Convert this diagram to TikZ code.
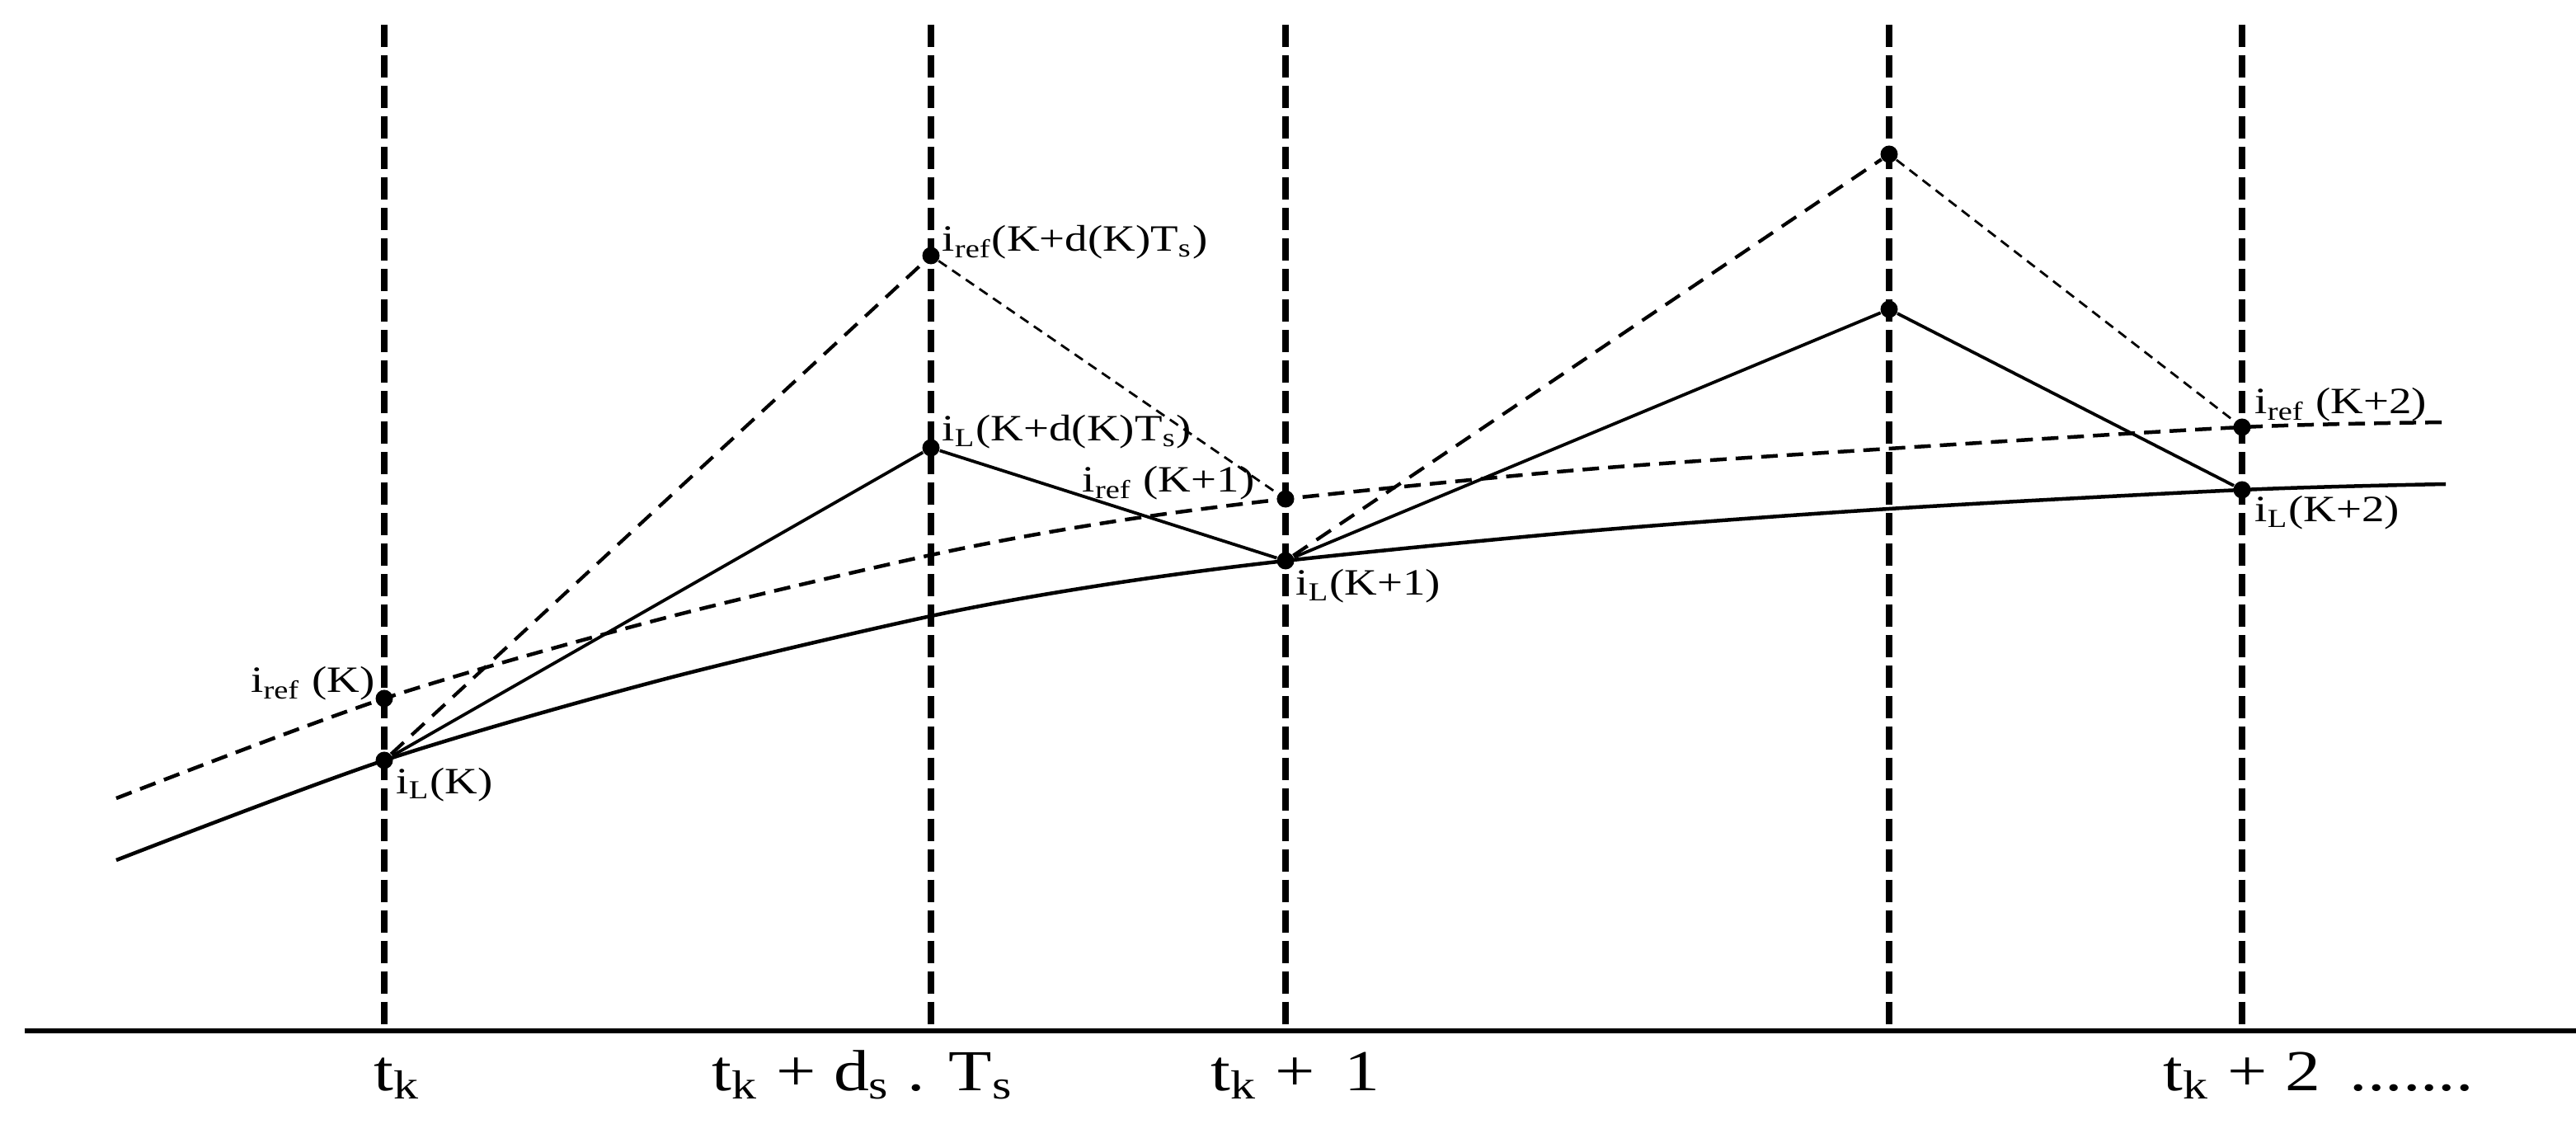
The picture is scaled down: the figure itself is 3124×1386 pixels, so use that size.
\documentclass[tikz,border=0pt]{standalone}
\usepackage{fontspec}
\setmainfont{Liberation Serif}
\usepackage{graphicx}
\newcommand{\stretchlbl}[1]{\scalebox{1.22}[1]{#1}}
\begin{document}
\begin{tikzpicture}[x=0.01cm,y=-0.01cm,
  vline/.style={line width=0.75mm, dash pattern=on 2.7mm off 1.0mm},
  axisline/.style={line width=0.6mm},
  refcurve/.style={line width=0.45mm, dash pattern=on 2.0mm off 1.1mm},
  lcurve/.style={line width=0.45mm},
  seg/.style={line width=0.38mm},
  dseg/.style={line width=0.42mm, dash pattern=on 2.1mm off 1.3mm},
  thinseg/.style={line width=0.28mm, dash pattern=on 1.2mm off 0.8mm},
  dot/.style={circle, fill=black, inner sep=0pt, minimum size=2.1mm},
  lab/.style={inner sep=0pt, font=\fontsize{12.8}{15}\selectfont},
  axlab/.style={inner sep=0pt, font=\fontsize{20}{24}\selectfont},
]
\fill[white] (0,0) rectangle (3124,1386);
\useasboundingbox (0,0) rectangle (3124,1386);

% vertical dashed lines
\foreach \n/\xx in {1/466,2/1129,3/1559,4/2291,5/2719}{
  \coordinate (v\n t) at (\xx,30);
  \coordinate (v\n b) at (\xx,1250);
}
\foreach \n in {1,...,5}{\draw[vline] (v\n t) -- (v\n b);}

% axis
\coordinate (ax0) at (30,1250);
\coordinate (ax1) at (3124,1250);
\draw[axisline] (ax0) -- (ax1);

% sample points
\coordinate (pA) at (466,922);   % iL(K)
\coordinate (pB) at (466,847);   % iref(K)
\coordinate (pC) at (1129,310);  % iref(K+d)
\coordinate (pD) at (1129,543);  % iL(K+d)
\coordinate (pE) at (1559,605);  % iref(K+1)
\coordinate (pF) at (1559,680);  % iL(K+1)
\coordinate (pG) at (2291,187);  % peak ref
\coordinate (pH) at (2291,375);  % peak iL
\coordinate (pI) at (2719,518);  % iref(K+2)
\coordinate (pJ) at (2719,594);  % iL(K+2)

% curve support points
\coordinate (r0) at (141,968);
\coordinate (r1) at (800,751);
\coordinate (r2) at (1129,673);
\coordinate (r3) at (1340,634);
\coordinate (r4) at (1925,569);
\coordinate (r5) at (2291,544);
\coordinate (r6) at (2966,512);
\coordinate (l0) at (141,1043);
\coordinate (l1) at (800,825);
\coordinate (l2) at (1129,747);
\coordinate (l3) at (1340,709);
\coordinate (l4) at (1925,644);
\coordinate (l5) at (2291,617);
\coordinate (l6) at (2966,587);
\draw[refcurve] plot[smooth] coordinates {(r0) (pB) (r1) (r2) (r3) (pE) (r4) (r5) (pI) (r6)};
\draw[lcurve] plot[smooth] coordinates {(l0) (pA) (l1) (l2) (l3) (pF) (l4) (l5) (pJ) (l6)};

% dots
\foreach \p in {A,B,C,D,E,F,G,H,I,J}{\node[dot] (\p) at (p\p) {};}

% triangle segments
\draw[seg] (A) -- (D) -- (F) -- (H) -- (J);
\draw[dseg] (A) -- (C);
\draw[dseg] (F) -- (G);
\draw[thinseg] (C) -- (E);
\draw[thinseg] (G) -- (I);

% labels
\node[lab, anchor=base east] (lB) at (455,840) {\stretchlbl{i\textsubscript{ref} (K)}};
\node[lab, anchor=base west] (lA) at (480,962) {\stretchlbl{i\textsubscript{L}(K)}};
\node[lab, anchor=base west] (lC) at (1142,305) {\stretchlbl{i\textsubscript{ref}(K+d(K)T\textsubscript{s})}};
\node[lab, anchor=base west] (lD) at (1142,535) {\stretchlbl{i\textsubscript{L}(K+d(K)T\textsubscript{s})}};
\node[lab, anchor=base east] (lE) at (1522,597) {\stretchlbl{i\textsubscript{ref} (K+1)}};
\node[lab, anchor=base west] (lF) at (1571,722) {\stretchlbl{i\textsubscript{L}(K+1)}};
\node[lab, anchor=base west] (lI) at (2734,502) {\stretchlbl{i\textsubscript{ref} (K+2)}};
\node[lab, anchor=base west] (lJ) at (2734,633) {\stretchlbl{i\textsubscript{L}(K+2)}};

% axis labels
\node[axlab, anchor=base west] (t0) at (453,1322) {\stretchlbl{t\textsubscript{k}}};
\node[axlab, anchor=base west] (t1) at (863,1322) {\stretchlbl{t\textsubscript{k} + d\textsubscript{s} . T\textsubscript{s}}};
\node[axlab, anchor=base west] (t2) at (1468,1322) {\stretchlbl{t\textsubscript{k} + \,1}};
\node[axlab, anchor=base west] (t3) at (2623,1322) {\stretchlbl{t\textsubscript{k} + 2 \,.......}};
\end{tikzpicture}
\end{document}
